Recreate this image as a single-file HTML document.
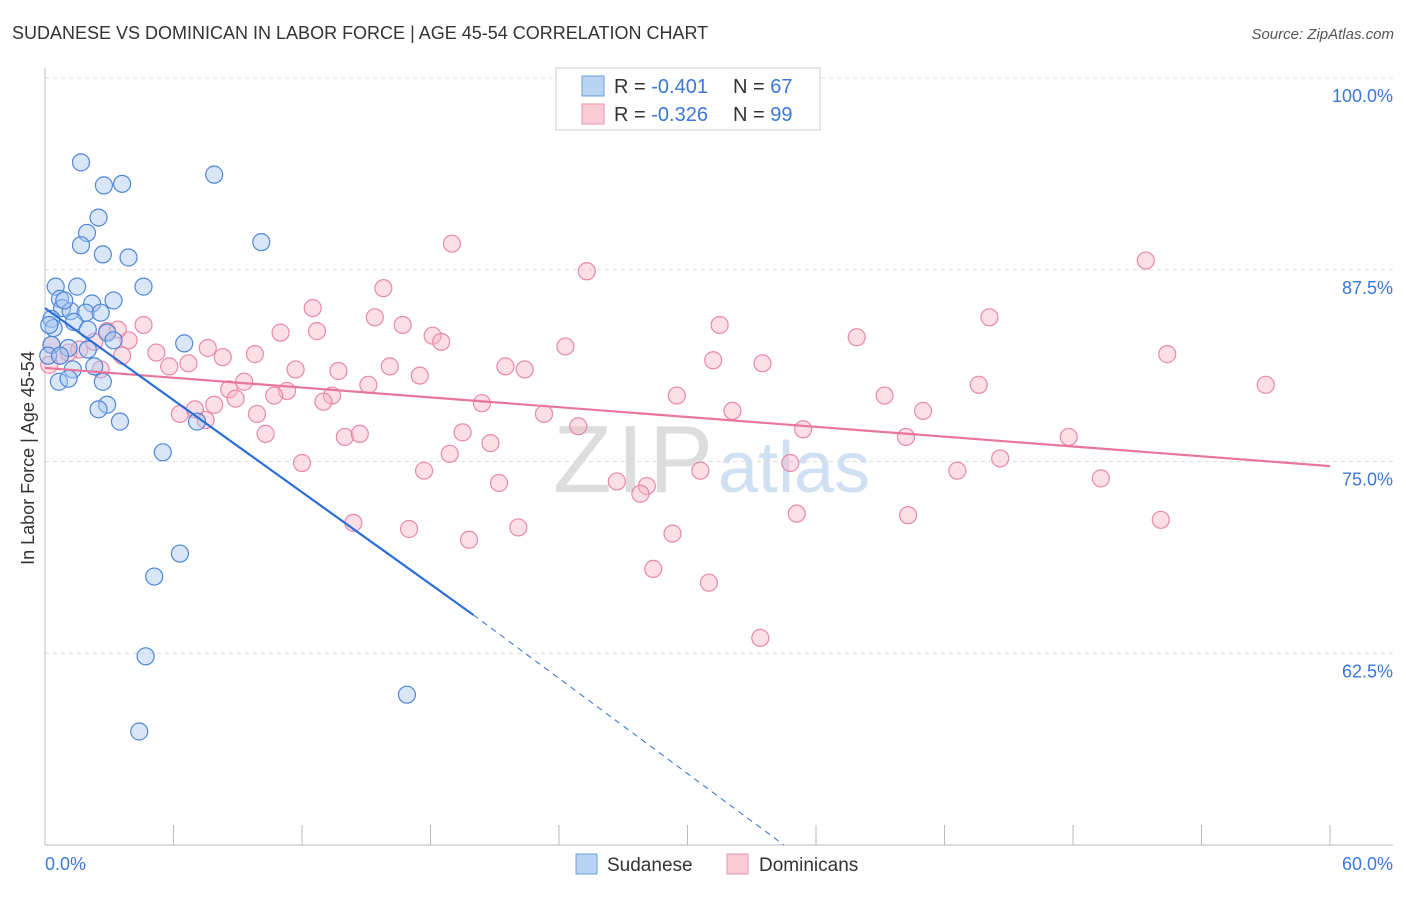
<!DOCTYPE html>
<html><head><meta charset="utf-8"><style>
body{margin:0;background:#fff;font-family:"Liberation Sans",sans-serif}
svg text{font-family:"Liberation Sans",sans-serif}
</style></head><body>
<svg id="chart" width="1406" height="892" viewBox="0 0 1406 892" xmlns="http://www.w3.org/2000/svg">
<text x="12" y="39" font-size="18" fill="#333">SUDANESE VS DOMINICAN IN LABOR FORCE | AGE 45-54 CORRELATION CHART</text>
<text x="1394" y="39" font-size="15" fill="#555" font-style="italic" text-anchor="end">Source: ZipAtlas.com</text>
<text x="553" y="492" font-size="96" fill="#ddd" font-family="Liberation Serif" textLength="160">ZIP</text>
<text x="718" y="492" font-size="72" fill="#cfe0f3">atlas</text>
<g id="grid"></g><g id="axes"></g>
<g id="pink"></g><g id="blue"></g><g id="lines"></g>
<text transform="translate(34,458) rotate(-90)" font-size="18" fill="#333" text-anchor="middle">In Labor Force | Age 45-54</text>
<text x="45" y="870" font-size="18" fill="#3a78d8">0.0%</text>
<text x="1393" y="870" font-size="18" fill="#3a78d8" text-anchor="end">60.0%</text>
<g>
<rect x="556" y="68" width="264" height="62" fill="#fff" stroke="#ccc"/>
<rect x="582" y="76" width="22" height="20" fill="#b9d3f3" stroke="#6d9de0"/>
<rect x="582" y="104" width="22" height="20" fill="#f9cbd8" stroke="#eb92ad"/>
<text x="614" y="93" font-size="20" fill="#333">R = <tspan fill="#3a78d8">-0.401</tspan></text>
<text x="733" y="93" font-size="20" fill="#333">N = <tspan fill="#3a78d8">67</tspan></text>
<text x="614" y="121" font-size="20" fill="#333">R = <tspan fill="#3a78d8">-0.326</tspan></text>
<text x="733" y="121" font-size="20" fill="#333">N = <tspan fill="#3a78d8">99</tspan></text>
</g>
<g>
<rect x="576" y="854" width="21" height="20" fill="#b9d3f3" stroke="#6d9de0"/>
<text x="607" y="871" font-size="19" fill="#333">Sudanese</text>
<rect x="727" y="854" width="21" height="20" fill="#f9cbd8" stroke="#eb92ad"/>
<text x="759" y="871" font-size="19" fill="#333">Dominicans</text>
</g>
</svg>
<script>
const blueX=[1.68,2.75,3.6,7.9,2.5,1.96,1.68,10.1,2.7,3.9,0.5,1.5,4.6,0.7,3.2,2.2,0.8,1.2,1.9,0.3,1.35,0.4,2.0,2.9,3.2,6.5,0.3,1.1,2.0,0.15,2.3,1.3,0.65,1.1,2.7,2.9,2.5,3.5,7.1,5.5,6.3,5.1,4.7,16.9,4.4,0.2,0.9,2.6,0.7];
const blueY=[94.5,93.0,93.1,93.7,90.9,89.9,89.1,89.3,88.5,88.3,86.4,86.4,86.4,85.6,85.5,85.3,85.0,84.8,84.7,84.3,84.1,83.7,83.6,83.4,82.9,82.7,82.6,82.4,82.3,81.9,81.2,81.0,80.2,80.4,80.2,78.7,78.4,77.6,77.6,75.6,69.0,67.5,62.3,59.8,57.4,83.9,85.5,84.7,81.9];
const pinkX=[19.0,25.3,51.4,15.8,12.5,15.4,16.7,44.1,31.5,4.6,12.7,11.0,18.1,18.5,37.9,2.9,3.9,24.3,7.6,9.8,8.3,5.2,6.7,5.8,3.6,52.4,31.2,33.5,11.7,13.7,16.1,17.5,21.5,22.4,9.3,15.1,8.6,11.3,8.9,10.7,13.4,13.0,57.0,43.6,29.5,39.2,20.4,7.9,7.0,6.3,9.9,32.1,41.0,23.3,7.5,24.9,35.4,10.3,14.0,14.7,19.5,40.2,47.8,20.8,18.9,12.0,34.8,44.6,17.7,30.6,42.6,49.3,21.2,26.7,28.1,27.8,35.1,40.3,14.4,17.0,22.1,52.1,19.8,29.3,28.4,31.0,33.4,0.7,0.3,1.1,2.3,1.6,0.2,2.6,3.4];
const pinkY=[89.2,87.4,88.1,86.3,85.0,84.4,83.9,84.4,83.9,83.9,83.5,83.4,83.2,82.8,83.1,83.5,82.9,82.5,82.4,82.0,81.8,82.1,81.4,81.2,81.9,82.0,81.6,81.4,81.0,80.9,81.2,80.6,81.2,81.0,80.2,80.0,79.7,79.6,79.1,79.3,79.3,78.9,80.0,80.0,79.3,79.3,78.8,78.7,78.4,78.1,78.1,78.3,78.3,78.1,77.7,77.3,77.1,76.8,76.6,76.8,76.9,76.6,76.6,76.2,75.5,74.9,74.9,75.2,74.4,74.4,74.4,73.9,73.6,73.7,73.4,72.9,71.6,71.5,71.0,70.6,70.7,71.2,69.9,70.3,68.0,67.1,63.5,81.9,82.6,82.1,82.8,82.3,81.3,81.0,83.6];
const yTicks=[100,87.5,75,62.5];
const yTickLabels=["100.0%","87.5%","75.0%","62.5%"];
const xTicks=[0,6,12,18,24,30,36,42,48,54,60];
const blueTrend=[[0,85.0],[20,65.0]];
const blueDash=[[20,65.0],[34.5,50]];
const pinkTrend=[[0,81.1],[60,74.7]];
const NS="http://www.w3.org/2000/svg";
const sx=v=>45+v/60*1285;
const sy=v=>78+(100-v)*15.34;
function mk(t,a,p){const e=document.createElementNS(NS,t);for(const k in a)e.setAttribute(k,a[k]);p.appendChild(e);return e;}
const grid=document.getElementById('grid'),axes=document.getElementById('axes');
yTicks.forEach((v,i)=>{
 const l=mk('line',{x1:45,x2:1393,y1:sy(v),y2:sy(v),stroke:'#ddd','stroke-dasharray':'4,4'},grid);
 
 
 const t=mk('text',{x:1393,y:sy(v)+24,'font-size':18,fill:'#3a78d8','text-anchor':'end'},axes);
 t.textContent=yTickLabels[i];
 
 
});
const ya=mk('line',{x1:45,x2:45,y1:68,y2:845,stroke:'#bbb'},axes);


const xa=mk('line',{x1:45,x2:1393,y1:845,y2:845,stroke:'#bbb'},axes);


xTicks.forEach(v=>{
 const t=mk('line',{x1:sx(v),x2:sx(v),y1:825,y2:845,stroke:'#bbb'},axes);
 
 
});
function pts(X,Y,g,fill,stroke,name){
 X.forEach((x,i)=>{
  const c=mk('circle',{cx:sx(x),cy:sy(Y[i]),r:8.5,fill:fill,'fill-opacity':0.45,stroke:stroke,'stroke-width':1.2},g);
  
  
 });
}
pts(pinkX,pinkY,document.getElementById('pink'),'#f7b6c8','#e889a6','dominican-point');
pts(blueX,blueY,document.getElementById('blue'),'#a9c8f0','#4f87d8','sudanese-point');
const lg=document.getElementById('lines');
function ln(p,stroke,w,dash,name){
 const a={x1:sx(p[0][0]),y1:sy(p[0][1]),x2:sx(p[1][0]),y2:sy(p[1][1]),stroke:stroke,'stroke-width':w};
 if(dash)a['stroke-dasharray']=dash;
 const l=mk('line',a,lg);
 
 
}
ln(pinkTrend,'#e8769c',2.2,null,'dominican-trendline');
ln(blueTrend,'#2a6fd6',2.2,null,'sudanese-trendline');
ln(blueDash,'#2a6fd6',1,'6,5','sudanese-trendline-extension');
</script>
</body></html>
